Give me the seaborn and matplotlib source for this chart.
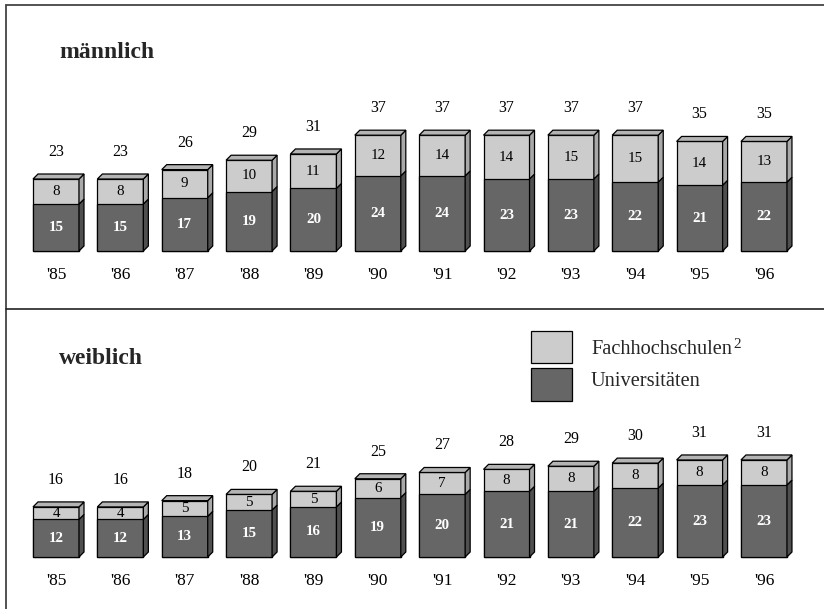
import matplotlib
matplotlib.use("Agg")
import matplotlib.pyplot as plt
from matplotlib.patches import Polygon, Rectangle
from matplotlib.lines import Line2D
import seaborn as sns
import pandas as pd

years = ["'85", "'86", "'87", "'88", "'89", "'90", "'91", "'92", "'93", "'94", "'95", "'96"]
m_uni = [15, 15, 17, 19, 20, 24, 24, 23, 23, 22, 21, 22]
m_fh = [8, 8, 9, 10, 11, 12, 14, 14, 15, 15, 14, 13]
m_total = [23, 23, 26, 29, 31, 37, 37, 37, 37, 37, 35, 35]
w_uni = [12, 12, 13, 15, 16, 19, 20, 21, 21, 22, 23, 23]
w_fh = [4, 4, 5, 5, 5, 6, 7, 8, 8, 8, 8, 8]
w_total = [16, 16, 18, 20, 21, 25, 27, 28, 29, 30, 31, 31]
panel_titles = ["männlich", "weiblich"]
legend_labels = ["Fachhochschulen", "Universitäten"]
footnote_mark = "2"

sns.set_style("white")
plt.rcParams["font.family"] = ["Liberation Serif", "DejaVu Serif"]

W, H = 824, 609
fig = plt.figure(figsize=(W / 100, H / 100), dpi=100)

LIGHT = "#cccccc"
DARK = "#666666"
LIGHT_SIDE = "#a9a9a9"
DARK_SIDE = "#4f4f4f"
TOP = "#b4b4b4"

PXU = 3.13          # pixels per value unit
X0, XSTEP = 56, 64.36
FRAME_L, FRAME_T, DIV = 6, 5, 309

def fx(px):
    return px / W

def fy(py):
    return 1 - py / H

panels = [
    dict(uni=m_uni, fh=m_fh, total=m_total, title=panel_titles[0],
         top=FRAME_T, bottom=DIV, base=251, title_y=53),
    dict(uni=w_uni, fh=w_fh, total=w_total, title=panel_titles[1],
         top=DIV, bottom=H, base=557, title_y=358),
]

dxu = 5 / XSTEP
dyu = 5 / PXU

for p in panels:
    ax = fig.add_axes([fx(FRAME_L), fy(p["bottom"]), fx(W - FRAME_L), (p["bottom"] - p["top"]) / H])
    df = pd.DataFrame({"year": years, "uni": p["uni"], "fh": p["fh"], "total": p["total"]})
    sns.barplot(data=df, x="year", y="total", color=LIGHT, saturation=1, width=46 / XSTEP,
                edgecolor="black", linewidth=0.9, errorbar=None, ax=ax)
    sns.barplot(data=df, x="year", y="uni", color=DARK, saturation=1, width=46 / XSTEP,
                edgecolor="black", linewidth=0.9, errorbar=None, ax=ax)
    n = len(years)
    tot_bars = ax.patches[:n]
    uni_bars = ax.patches[n:2 * n]
    for i, (tb, ub) in enumerate(zip(tot_bars, uni_bars)):
        x0 = tb.get_x()
        x1 = x0 + tb.get_width()
        xc = x0 + tb.get_width() / 2
        yt = tb.get_height()
        yu = ub.get_height()
        ax.add_patch(Polygon([(x1, 0), (x1 + dxu, dyu), (x1 + dxu, yu + dyu), (x1, yu)],
                             closed=True, facecolor=DARK_SIDE, edgecolor="black", linewidth=0.9, zorder=3))
        ax.add_patch(Polygon([(x1, yu), (x1 + dxu, yu + dyu), (x1 + dxu, yt + dyu), (x1, yt)],
                             closed=True, facecolor=LIGHT_SIDE, edgecolor="black", linewidth=0.9, zorder=3))
        ax.add_patch(Polygon([(x0, yt), (x0 + dxu, yt + dyu), (x1 + dxu, yt + dyu), (x1, yt)],
                             closed=True, facecolor=TOP, edgecolor="black", linewidth=0.9, zorder=3))
        ax.text(xc, yu / 2, f"{p['uni'][i]}", ha="center", va="center", color="white",
                fontsize=10.8, fontweight="bold", zorder=5)
        ax.text(xc, yu + (yt - yu) / 2, f"{p['fh'][i]}", ha="center", va="center", color="black",
                fontsize=10.8, zorder=5)
        ax.text(xc, yt + 27 / PXU, f"{p['total'][i]}", ha="center", va="center", color="black",
                fontsize=11.5, zorder=5)
        ax.text(xc, -24 / PXU, years[i], ha="center", va="center", color="black",
                fontsize=12.5, zorder=5)
    ax.set_xlim((FRAME_L - X0) / XSTEP, (W - X0) / XSTEP)
    ax.set_ylim(-(p["bottom"] - p["base"]) / PXU, (p["base"] - p["top"]) / PXU)
    ax.axis("off")
    fig.text(fx(59), fy(p["title_y"]), p["title"], ha="left", va="center",
             fontsize=17, fontweight="bold")

# frame lines
fig.add_artist(Line2D([fx(FRAME_L), 1], [fy(FRAME_T), fy(FRAME_T)], color="#444444", linewidth=1.3))
fig.add_artist(Line2D([fx(FRAME_L), fx(FRAME_L)], [fy(FRAME_T), 0], color="#444444", linewidth=1.3))
fig.add_artist(Line2D([fx(FRAME_L), 1], [fy(DIV), fy(DIV)], color="#222222", linewidth=1.2))

# legend
for (ytop, ybot, col, lab, yc) in [(331, 363, LIGHT, legend_labels[0], 350),
                                   (368, 401, DARK, legend_labels[1], 382)]:
    fig.add_artist(Rectangle((fx(531), fy(ybot)), fx(41), (ybot - ytop) / H,
                             facecolor=col, edgecolor="black", linewidth=0.9,
                             transform=fig.transFigure))
    fig.text(fx(591), fy(yc), lab, ha="left", va="center", fontsize=14.7)
fig.text(fx(733), fy(345), footnote_mark, ha="left", va="center", fontsize=11)

fig.savefig("out.png", dpi=100)
